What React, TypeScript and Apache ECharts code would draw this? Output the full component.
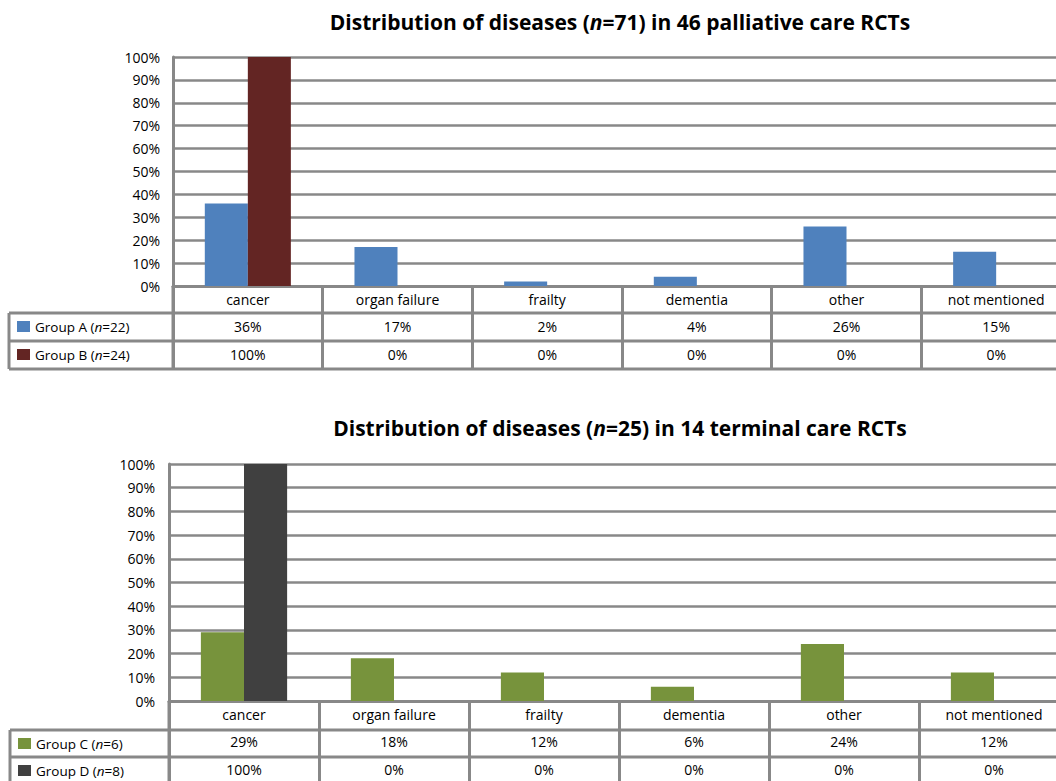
import React, { useEffect, useRef } from "react";
import * as echarts from "echarts";

const categories = ["cancer", "organ failure", "frailty", "dementia", "other", "not mentioned"];
const groupA = [36, 17, 2, 4, 26, 15];
const groupB = [100, 0, 0, 0, 0, 0];
const groupC = [29, 18, 12, 6, 24, 12];
const groupD = [100, 0, 0, 0, 0, 0];
const chart1Groups = [
  { name: "Group A", n: 22, color: "#4F81BD", values: groupA },
  { name: "Group B", n: 24, color: "#632523", values: groupB },
];
const chart2Groups = [
  { name: "Group C", n: 6, color: "#77933C", values: groupC },
  { name: "Group D", n: 8, color: "#404040", values: groupD },
];
const titles = [
  { pre: "Distribution of diseases (", n: "=71) in 46 palliative care RCTs" },
  { pre: "Distribution of diseases (", n: "=25) in 14 terminal care RCTs" },
];

const FONT = "'Open Sans', Lato, sans-serif";
const GRID_COLOR = "#888888";

const layouts = [
  { left: 173, top: 57, height: 229, width: 898, titleY: 22, tableLeft: 9, rowLines: [313, 341, 369], tickLen: 84, yMargin: 13 },
  { left: 169, top: 464, height: 237, width: 900, titleY: 428, tableLeft: 10, rowLines: [730, 757, 790], tickLen: 90, yMargin: 14 },
];

export default function App() {
  const ref = useRef<HTMLDivElement>(null);
  useEffect(() => {
    if (!ref.current) return;
    const chart = echarts.init(ref.current, undefined, { renderer: "svg" });
    const charts = [chart1Groups, chart2Groups];
    const grid: any[] = [];
    const xAxis: any[] = [];
    const yAxis: any[] = [];
    const series: any[] = [];
    const graphic: any[] = [];

    charts.forEach((groups, ci) => {
      const L = layouts[ci];
      grid.push({ left: L.left, top: L.top, width: L.width, height: L.height, containLabel: false });
      yAxis.push({
        type: "value",
        gridIndex: ci,
        min: 0,
        max: 100,
        interval: 10,
        axisLine: { show: true, lineStyle: { color: GRID_COLOR, width: 3 } },
        axisTick: { show: false },
        axisLabel: { formatter: "{value}%", color: "#000", fontSize: 14, fontFamily: FONT, margin: L.yMargin },
        splitLine: { show: true, lineStyle: { color: GRID_COLOR, width: 2.5 } },
      });
      const catIdx = xAxis.length;
      xAxis.push({
        type: "category",
        gridIndex: ci,
        data: categories,
        axisLine: { show: true, onZero: false, lineStyle: { color: GRID_COLOR, width: 3 } },
        axisTick: { show: true, interval: 0, length: L.tickLen, lineStyle: { color: GRID_COLOR, width: 3 } },
        axisLabel: { interval: 0, color: "#000", fontSize: 14, fontFamily: FONT, margin: 6 },
      });
      groups.forEach((g, gi) => {
        xAxis.push({
          type: "category",
          gridIndex: ci,
          position: "bottom",
          offset: 27 + gi * 28,
          data: g.values.map((v) => v + "%"),
          axisLine: { show: false },
          axisTick: { show: false },
          axisLabel: { interval: 0, color: "#000", fontSize: 14, fontFamily: FONT, margin: 6 },
        });
        series.push({
          type: "bar",
          name: g.name,
          xAxisIndex: catIdx,
          yAxisIndex: ci,
          data: g.values,
          barGap: "0%",
          barCategoryGap: "42.5%",
          itemStyle: { color: g.color },
        });
      });

      // title
      graphic.push({
        type: "text",
        x: 620,
        y: L.titleY,
        style: {
          text: `{b|${titles[ci].pre}}{i|n}{b|${titles[ci].n}}`,
          align: "center",
          verticalAlign: "middle",
          rich: {
            b: { fontSize: 21, fontWeight: "bold", fontFamily: FONT, fill: "#000" },
            i: { fontSize: 21, fontWeight: "bold", fontStyle: "italic", fontFamily: FONT, fill: "#000" },
          },
        },
      });
      // table horizontal lines
      const bottomAxisY = L.top + L.height;
      L.rowLines.forEach((y) => {
        graphic.push({
          type: "line",
          shape: { x1: L.tableLeft, y1: y, x2: 1100, y2: y },
          style: { stroke: GRID_COLOR, lineWidth: 3 },
        });
      });
      graphic.push({
        type: "line",
        shape: { x1: L.tableLeft, y1: L.rowLines[0], x2: L.tableLeft, y2: Math.min(L.rowLines[2], 790) },
        style: { stroke: GRID_COLOR, lineWidth: 3 },
      });
      graphic.push({
        type: "line",
        shape: { x1: L.left, y1: bottomAxisY, x2: L.left, y2: Math.min(L.rowLines[2], 790) },
        style: { stroke: GRID_COLOR, lineWidth: 3 },
      });
      // legend keys
      groups.forEach((g, gi) => {
        const rowTop = L.rowLines[gi];
        const cy = rowTop + 14;
        graphic.push({
          type: "rect",
          shape: { x: L.tableLeft + 8, y: cy - 6, width: 13, height: 11 },
          style: { fill: g.color },
        });
        graphic.push({
          type: "text",
          x: L.tableLeft + 26,
          y: cy,
          style: {
            text: `{a|${g.name} (}{i|n}{a|=${g.n})}`,
            verticalAlign: "middle",
            rich: {
              a: { fontSize: 13.5, fontFamily: FONT, fill: "#000" },
              i: { fontSize: 13.5, fontStyle: "italic", fontFamily: FONT, fill: "#000" },
            },
          },
        });
      });
    });

    chart.setOption({
      animation: false,
      backgroundColor: "#fff",
      grid,
      xAxis,
      yAxis,
      series,
      graphic,
    });
    return () => chart.dispose();
  }, []);
  return (
    <div style={{ position: "absolute", left: 0, top: 0, width: 1056, height: 781, overflow: "hidden" }}>
      <div ref={ref} style={{ width: 1100, height: 781 }} />
    </div>
  );
}
